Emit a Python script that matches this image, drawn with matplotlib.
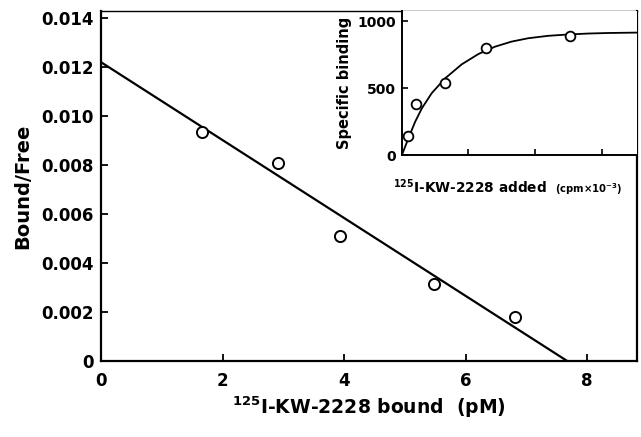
import numpy as np
import matplotlib
matplotlib.use("Agg")
import matplotlib.pyplot as plt

plt.rcParams['font.family'] = ['DejaVu Sans']
plt.rcParams['font.weight'] = 'bold'

# Scatchard plot data
bound = [1.66, 2.91, 3.93, 5.48, 6.82]
bound_free = [0.00933, 0.0081, 0.0051, 0.00315, 0.0018]
fit_x = [0.0, 7.67]
fit_y = [0.0122, 0.0]

# inset: saturation data
added = [0.10, 0.22, 0.65, 1.27, 2.52]
specific = [145, 382, 543, 804, 894]
curve_x = [0.0, 0.10, 0.20, 0.30, 0.45, 0.65, 0.90, 1.15, 1.40, 1.65, 1.90, 2.20, 2.50, 2.80, 3.10, 3.53]
curve_y = [0, 128, 250, 350, 465, 575, 680, 757, 812, 850, 875, 893, 903, 910, 914, 917]

main_xticks = [0, 2, 4, 6, 8]
main_yticks = [0, 0.002, 0.004, 0.006, 0.008, 0.010, 0.012, 0.014]
main_yticklabels = ["0", "0.002", "0.004", "0.006", "0.008", "0.010", "0.012", "0.014"]
inset_yticks = [0, 500, 1000]
inset_xticks = [1, 2, 3]

fig = plt.figure(figsize=(6.41, 4.37), dpi=100)
ax = fig.add_axes([0.1576, 0.174, 0.8362, 0.8008])
ax.plot(fit_x, fit_y, color="black", lw=1.6)
ax.plot(bound, bound_free, "o", mfc="white", mec="black", mew=1.4, ms=8, zorder=3)
ax.set_xlim(0, 8.82)
ax.set_ylim(0, 0.01429)
ax.set_xticks(main_xticks)
ax.set_yticks(main_yticks)
ax.set_yticklabels(main_yticklabels)
ax.tick_params(direction="in", length=5, width=1.3, labelsize=12, pad=5)
ax.tick_params(axis="x", pad=8)
for lab in ax.get_xticklabels() + ax.get_yticklabels():
    lab.set_fontweight("bold")
for s in ax.spines.values():
    s.set_linewidth(1.6)
ax.spines["top"].set_linewidth(1.0)
ax.set_ylabel("Bound/Free", fontsize=14, fontweight="bold", labelpad=7)
ax.set_xlabel(r"$^{125}$I-KW-2228 bound  (pM)", fontsize=13.5, fontweight="bold", labelpad=3)

ins = fig.add_axes([0.6267, 0.6442, 0.3671, 0.3306])
ins.plot(curve_x, curve_y, color="black", lw=1.3)
ins.plot(added, specific, "o", mfc="white", mec="black", mew=1.3, ms=7, zorder=3)
ins.set_xlim(0, 3.53)
ins.set_ylim(0, 1078)
ins.set_xticks(inset_xticks)
ins.set_xticklabels([])
ins.set_yticks(inset_yticks)
ins.tick_params(direction="in", length=4, width=1.2, labelsize=10, pad=4)
for lab in ins.get_yticklabels():
    lab.set_fontweight("bold")
for s in ins.spines.values():
    s.set_linewidth(1.4)
ins.spines["top"].set_visible(False)
ins.spines["right"].set_visible(False)
ins.set_ylabel("Specific binding", fontsize=10.5, fontweight="bold", labelpad=4)
fig.text(0.613, 0.558, r"$^{125}$I-KW-2228 added", fontsize=9.8, fontweight="bold",
         ha="left", va="baseline")
fig.text(0.866, 0.558, r"(cpm$\times$10$^{-3}$)", fontsize=7.2, fontweight="bold",
         ha="left", va="baseline")

fig.savefig("out.png", dpi=100)
